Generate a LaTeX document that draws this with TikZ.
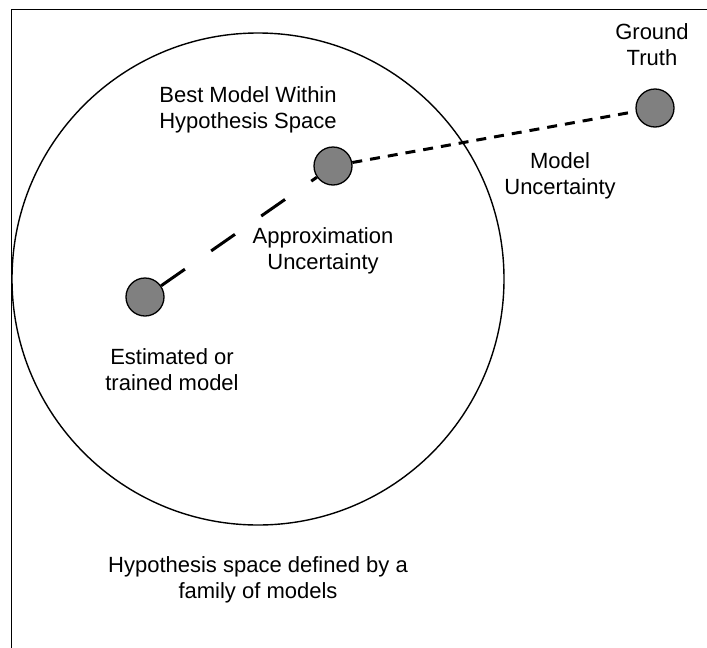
\documentclass[tikz,border=0pt]{standalone}
\usepackage{fontspec}
\setmainfont{Liberation Sans}
\begin{document}
\begin{tikzpicture}[
  x=1pt, y=-1pt,
  every node/.style={font=\fontsize{22}{26}\selectfont, align=center, inner sep=0pt}
]
\tikzset{
  modelo/.style={draw, circle, fill=black!50, line width=1.3pt, minimum size=38pt},
  espaco/.style={draw, circle, line width=1.4pt, minimum size=492pt},
  longo/.style={line width=3pt, dash pattern=on 29pt off 32pt},
  curto/.style={line width=3pt, dash pattern=on 10pt off 8pt}
}
\useasboundingbox (0,0) rectangle (707,648);
\draw[line width=1.3pt] (11.5,648) -- (11.5,9.5) -- (707,9.5);
\node[espaco] (H) at (258,279) {};
\node[modelo] (E) at (145,297) {};
\node[modelo] (B) at (333,166) {};
\node[modelo] (G) at (655,108) {};
\draw[longo] (E) -- (B);
\draw[curto] (B) -- (G);
\node (g) at (652,44.5) {Ground\\Truth};
\node (b) at (248,110) {Best Model Within\\Hypothesis Space};
\node (m) at (560,176) {Model\\Uncertainty};
\node (a) at (323,251) {Approximation\\Uncertainty};
\node (e) at (172,370) {Estimated or\\trained model};
\node (h) at (258,580) {Hypothesis space defined by a\\family of models};
\end{tikzpicture}
\end{document}
